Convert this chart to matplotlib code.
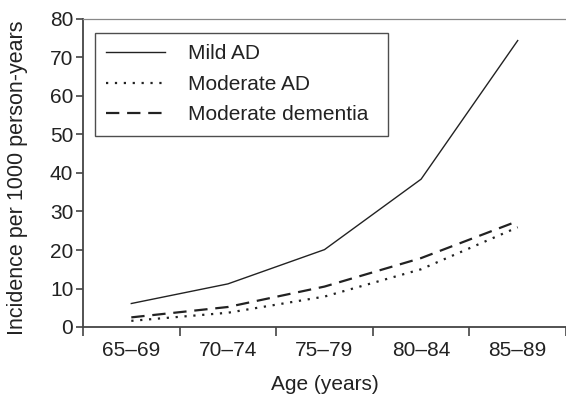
import numpy as np
import matplotlib.pyplot as plt

plt.rcParams['font.family'] = ['Liberation Sans', 'DejaVu Sans']

ages = ['65–69', '70–74', '75–79', '80–84', '85–89']
mild_ad = [6.1, 11.2, 20.1, 38.4, 74.4]
moderate_ad = [1.6, 3.7, 7.9, 15.0, 25.9]
moderate_dementia = [2.5, 5.2, 10.5, 17.9, 27.5]

fig = plt.figure(figsize=(5.66, 3.95), dpi=100)
ax = fig.add_axes([83/566, 1 - 327/395, 1 - 83/566, (327 - 19)/395])

x = np.arange(len(ages))
ax.plot(x, mild_ad, color='#222222', lw=1.0, label='Mild AD')
ax.plot(x, moderate_ad, color='#222222', lw=1.6, linestyle=(0, (1, 3)), label='Moderate AD')
ax.plot(x, moderate_dementia, color='#222222', lw=1.6, linestyle=(0, (6, 3.5)), label='Moderate dementia')

ax.set_xlim(-0.5, 4.5)
ax.set_ylim(0, 80)
ax.set_yticks(range(0, 81, 10))

# category labels sit between the tick marks
ax.set_xticks(np.arange(-0.5, 4.6, 1.0))
ax.set_xticklabels([])
ax.set_xticks(x, minor=True)
ax.set_xticklabels(ages, minor=True)

ax.tick_params(axis='y', which='major', direction='out', length=5, width=1.2,
               color='#444444', labelsize=15, labelcolor='#222222', pad=2)
ax.tick_params(axis='x', which='major', direction='out', length=6.5, width=1.2,
               color='#444444')
ax.tick_params(axis='x', which='minor', length=0, pad=10,
               labelsize=15, labelcolor='#222222')

for side in ['left', 'bottom']:
    ax.spines[side].set_color('#444444')
    ax.spines[side].set_linewidth(1.3)
ax.spines['top'].set_color('#888888')
ax.spines['top'].set_linewidth(0.9)
ax.spines['right'].set_visible(False)

ax.set_xlabel('Age (years)', fontsize=15, color='#222222', va='center')
ax.xaxis.set_label_coords(0.5, -(385 - 327) / 308)
ax.set_ylabel('Incidence per 1000 person-years', fontsize=15.5, color='#222222', va='center')
ax.yaxis.set_label_coords(-(83 - 18) / 483, 0.485)

# legend box stretched to a fixed width, entries stay on the left
leg = ax.legend(loc='upper left', bbox_to_anchor=(95/566, 1 - 132/395, 293/566, 99/395),
                bbox_transform=fig.transFigure, mode='expand', borderaxespad=0,
                fancybox=False, frameon=True, fontsize=15, handlelength=2.8,
                handletextpad=1.1, labelspacing=0.55, borderpad=0.55)
leg.get_frame().set_edgecolor('#222222')
leg.get_frame().set_linewidth(1.0)
for t in leg.get_texts():
    t.set_color('#222222')

fig.savefig('out.png', dpi=100)
